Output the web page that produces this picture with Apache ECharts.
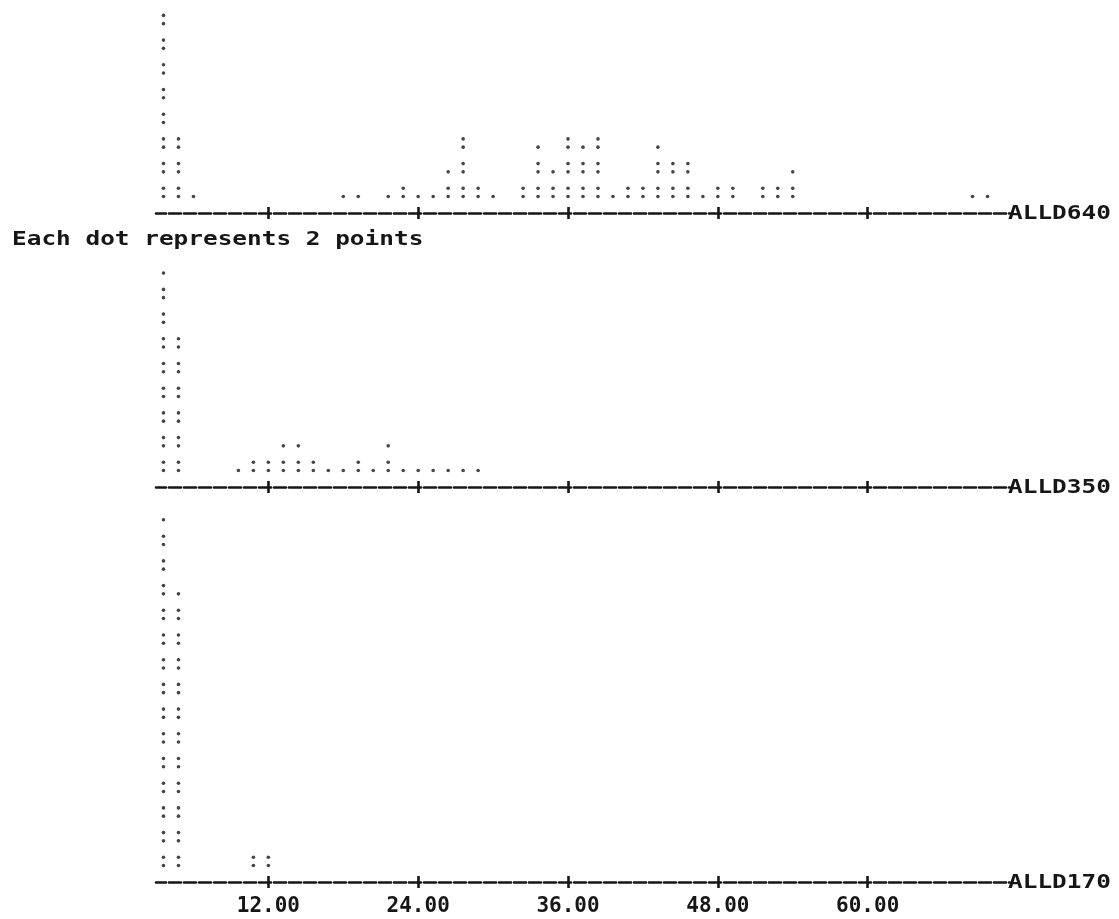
<!DOCTYPE html>
<html>
<head>
<meta charset="utf-8">
<title>Dotplots ALLD640 / ALLD350 / ALLD170</title>
<script src="https://cdn.jsdelivr.net/npm/echarts@6/dist/echarts.min.js"></script>
<style>
  html, body { margin: 0; padding: 0; background: #ffffff; }
  #chart { width: 1119px; height: 919px; }
</style>
</head>
<body>
<div id="chart"></div>
<script>
// Dotplot data: bin centres (one character column = 1.2 units) and number of dots per bin.
// Each dot represents 2 points.
const panelNames = ['ALLD640', 'ALLD350', 'ALLD170'];

const alld640X = [3.6, 4.8, 6.0, 18.0, 19.2, 21.6, 22.8, 24.0, 25.2, 26.4, 27.6, 28.8, 30.0,
                  32.4, 33.6, 34.8, 36.0, 37.2, 38.4, 39.6, 40.8, 42.0, 43.2, 44.4, 45.6,
                  46.8, 48.0, 49.2, 51.6, 52.8, 54.0, 68.4, 69.6];
const alld640Dots = [16, 6, 1, 1, 1, 1, 2, 1, 1, 3, 6, 2, 1,
                     2, 5, 3, 6, 5, 6, 1, 2, 2, 5, 4, 4,
                     1, 2, 2, 2, 2, 3, 1, 1];

const alld350X = [3.6, 4.8, 9.6, 10.8, 12.0, 13.2, 14.4, 15.6, 16.8, 18.0, 19.2, 20.4,
                  21.6, 22.8, 24.0, 25.2, 26.4, 27.6, 28.8];
const alld350Dots = [17, 12, 1, 2, 2, 3, 3, 2, 1, 1, 2, 1,
                     3, 1, 1, 1, 1, 1, 1];

const alld170X = [3.6, 4.8, 10.8, 12.0];
const alld170Dots = [29, 23, 2, 2];

const tickValues = [12, 24, 36, 48, 60];
const tickLabels = ['12.00', '24.00', '36.00', '48.00', '60.00'];
const caption = 'Each dot represents 2 points';

// ---- layout ----
const INK = '#161616';
const FONT = 'bold 20px "DejaVu Sans Mono", monospace';
const TEXT_STRETCH = 1.22;           // widen the mono glyphs to a 15px character cell
const ROW_PX = 24.7;                 // one printed line
const UNIT_PX = ROW_PX / 3;          // a line holds two stacked dots (":") plus spacing
const X_MIN = 3.0, X_MAX = 71.4;
const PLOT_LEFT = 156, PLOT_WIDTH = 854;

const panels = [
  { xs: alld640X, counts: alld640Dots, top: 0,   height: 213, labels: false },
  { xs: alld350X, counts: alld350Dots, top: 250, height: 237, labels: false },
  { xs: alld170X, counts: alld170Dots, top: 505, height: 377, labels: true }
];

// Stack dots in a column: two dots per printed line (lower dot first).
function stackDots(xs, counts) {
  const pts = [];
  xs.forEach((x, i) => {
    for (let k = 0; k < counts[i]; k++) {
      pts.push([x, Math.floor(k / 2) * 3 + (k % 2)]);
    }
  });
  return pts;
}

const grid = [], xAxis = [], yAxis = [], series = [], graphic = [];

panels.forEach((p, i) => {
  grid.push({ left: PLOT_LEFT, width: PLOT_WIDTH, top: p.top, height: p.height,
              outerBoundsMode: 'none', containLabel: false });

  yAxis.push({
    gridIndex: i, type: 'value', show: false,
    min: -2, max: -2 + p.height / UNIT_PX
  });

  // printed axis: dashed rule with "+" marks (lower half of each mark)
  xAxis.push({
    gridIndex: i, type: 'value', position: 'bottom',
    min: X_MIN, max: X_MAX,
    splitLine: { show: false },
    axisLine: { show: true, onZero: false,
                lineStyle: { color: INK, width: 2.6, type: [12, 3], dashOffset: 2 } },
    axisTick: { show: true, customValues: tickValues, length: 6, inside: false,
                lineStyle: { color: INK, width: 2.6 } },
    axisLabel: {
      show: p.labels, customValues: tickValues, margin: 14,
      color: INK, fontFamily: '"DejaVu Sans Mono", monospace', fontWeight: 'bold', fontSize: 21,
      formatter: v => tickLabels[tickValues.indexOf(v)]
    }
  });
  // upper half of each "+" mark
  xAxis.push({
    gridIndex: i, type: 'value', position: 'bottom', offset: 0,
    min: X_MIN, max: X_MAX,
    splitLine: { show: false },
    axisLine: { show: false, onZero: false },
    axisTick: { show: true, customValues: tickValues, length: 6, inside: true,
                lineStyle: { color: INK, width: 2.6 } },
    axisLabel: { show: false }
  });

  series.push({
    type: 'scatter', name: panelNames[i],
    xAxisIndex: 2 * i, yAxisIndex: i,
    data: stackDots(p.xs, p.counts),
    symbol: 'circle', symbolSize: 3.6,
    itemStyle: { color: INK },
    silent: true, animation: false
  });

  // variable name printed at the right end of the rule
  graphic.push({
    type: 'text', x: PLOT_LEFT + PLOT_WIDTH - 2, y: p.top + p.height + 1, scaleX: TEXT_STRETCH,
    style: { text: panelNames[i], font: FONT, fill: INK, align: 'left', verticalAlign: 'middle' }
  });
});

graphic.push({
  type: 'text', x: 12, y: 240, scaleX: TEXT_STRETCH,
  style: { text: caption, font: FONT, fill: INK, align: 'left', verticalAlign: 'middle' }
});

const chart = echarts.init(document.getElementById('chart'), null, { renderer: 'canvas' });
chart.setOption({
  backgroundColor: '#ffffff',
  animation: false,
  grid, xAxis, yAxis, series, graphic
});
</script>
</body>
</html>
